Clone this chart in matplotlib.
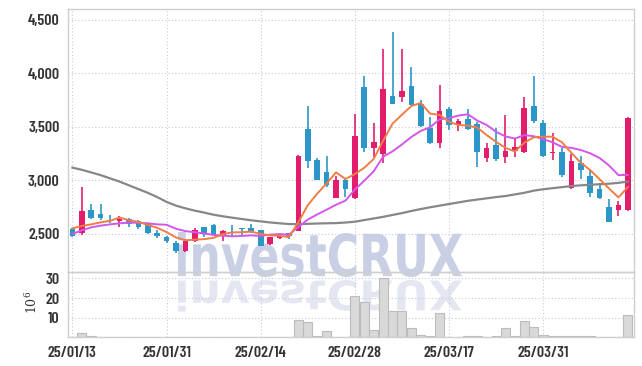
import numpy as np
import matplotlib.pyplot as plt
from matplotlib.font_manager import FontProperties
from matplotlib.textpath import TextPath
from matplotlib.patches import PathPatch
from matplotlib.transforms import Affine2D

# daily candles (KRW), volume in millions
opens = [2547, 2506, 2724, 2688, 2634, 2625, 2640, 2622, 2590, 2506,
         2472, 2419, 2344, 2432, 2562, 2584, 2495, 2520, 2552, 2553,
         2537, 2407, 2460, 2505, 2531, 3480, 3192, 3083, 2840, 3005,
         2835, 3874, 3301, 3245, 3793, 3783, 3883, 3712, 3494, 3353,
         3668, 3519, 3572, 3528, 3213, 3332, 3222, 3276, 3264, 3696,
         3541, 3254, 3269, 2927, 3167, 3045, 2918, 2752, 2724, 2722]
highs = [2555, 2936, 2778, 2785, 2678, 2670, 2650, 2630, 2595, 2537,
         2478, 2437, 2450, 2556, 2568, 2593, 2540, 2584, 2555, 2590,
         2540, 2475, 2490, 2510, 3240, 3700, 3210, 3229, 3040, 3010,
         3620, 3977, 3535, 4226, 4385, 4226, 4058, 3750, 3590, 3890,
         3690, 3575, 3665, 3550, 3348, 3488, 3612, 3400, 3777, 3977,
         3566, 3441, 3301, 3245, 3229, 3107, 2974, 2824, 2808, 3590]
lows = [2470, 2495, 2640, 2630, 2600, 2565, 2565, 2550, 2497, 2463,
        2413, 2320, 2335, 2425, 2469, 2490, 2437, 2485, 2495, 2506,
        2385, 2400, 2455, 2450, 2525, 3115, 3000, 2935, 2833, 2850,
        2825, 3270, 3222, 3161, 3715, 3731, 3705, 3500, 3340, 3300,
        3470, 3463, 3475, 3129, 3176, 3185, 3161, 3222, 3260, 3535,
        3222, 3192, 3036, 2925, 3014, 2849, 2827, 2609, 2671, 2715]
closes = [2484, 2715, 2652, 2645, 2617, 2640, 2592, 2570, 2508, 2481,
          2438, 2345, 2435, 2537, 2506, 2495, 2528, 2510, 2545, 2530,
          2388, 2469, 2481, 2485, 3228, 3185, 3005, 2955, 3005, 2918,
          3415, 3302, 3363, 3855, 3718, 3836, 3706, 3512, 3355, 3654,
          3519, 3556, 3479, 3269, 3301, 3198, 3276, 3313, 3675, 3556,
          3232, 3269, 3051, 3182, 3098, 2886, 2840, 2615, 2771, 3581]
volume = [0.3, 2.0, 0.5, 0.3, 0.2, 0.3, 0.2, 0.2, 0.2, 0.2,
          0.2, 0.3, 0.2, 0.3, 0.2, 0.2, 0.2, 0.2, 0.2, 0.2,
          0.3, 0.2, 0.2, 0.2, 9.0, 7.6, 0.9, 3.0, 0.4, 0.4,
          21.0, 17.9, 3.5, 30.0, 13.2, 13.6, 4.9, 1.3, 0.5, 12.6,
          0.4, 0.3, 0.8, 0.8, 0.3, 0.9, 4.9, 0.8, 8.5, 5.4,
          1.3, 0.8, 0.8, 0.8, 0.8, 0.8, 0.4, 0.4, 0.4, 11.5]

# moving averages as drawn on the chart
ma5 = [2553, 2575, 2590, 2609, 2623, 2654, 2629, 2613, 2585, 2558,
       2518, 2468, 2441, 2447, 2452, 2464, 2500, 2515, 2517, 2522,
       2500, 2488, 2483, 2471, 2610, 2770, 2877, 2972, 3076, 3014,
       3060, 3119, 3201, 3371, 3531, 3615, 3696, 3725, 3625, 3613,
       3549, 3519, 3513, 3495, 3425, 3361, 3305, 3271, 3353, 3404,
       3410, 3409, 3357, 3258, 3166, 3097, 3011, 2925, 2842, 2939]
ma10 = [2500, 2535, 2562, 2578, 2590, 2600, 2606, 2605, 2600, 2590,
        2586, 2549, 2527, 2516, 2505, 2491, 2484, 2478, 2482, 2487,
        2482, 2494, 2499, 2494, 2566, 2635, 2683, 2727, 2773, 2812,
        2915, 2998, 3086, 3223, 3272, 3337, 3407, 3463, 3498, 3572,
        3582, 3607, 3619, 3560, 3519, 3455, 3412, 3392, 3424, 3414,
        3386, 3357, 3314, 3305, 3285, 3254, 3210, 3140, 3050, 3053]
ma_long = [3120, 3100, 3075, 3050, 3020, 2990, 2955, 2920, 2885, 2845,
           2800, 2765, 2740, 2718, 2700, 2680, 2665, 2652, 2640, 2628,
           2618, 2608, 2600, 2593, 2592, 2595, 2598, 2600, 2602, 2607,
           2615, 2630, 2645, 2660, 2678, 2695, 2715, 2733, 2750, 2765,
           2780, 2795, 2810, 2822, 2833, 2845, 2855, 2870, 2885, 2905,
           2918, 2928, 2938, 2948, 2955, 2960, 2965, 2970, 2978, 2990]

tick_idx = [0, 10, 20, 30, 40, 50]
tick_labels = ['25/01/13', '25/01/31', '25/02/14', '25/02/28', '25/03/17', '25/03/31']
price_ticks = [2500, 3000, 3500, 4000, 4500]
vol_ticks = [10, 20, 30]

UP = '#e31c6b'
DOWN = '#2d96c8'
GRID = '#c6cadd'
SPINE = '#cfcfcf'
tick_font = dict(family=['Barlow Condensed', 'Saira Condensed', 'DejaVu Sans'],
                 weight=600, size=11.5)

fig = plt.figure(figsize=(6.42, 3.66), dpi=100)
fig.patch.set_facecolor('white')

# watermark with reflection, in figure pixels
fp = FontProperties(family='DejaVu Sans', weight='bold')
tp = TextPath((0, 0), 'investCRUX', size=100, prop=fp)
ext = tp.get_extents()
sx = 284 / ext.width
sy = 45 / ext.height
t_main = Affine2D().translate(-ext.x0, -ext.y0).scale(sx, sy).translate(178, 366 - 277)
t_refl = Affine2D().translate(-ext.x0, -ext.y0).scale(sx, -sy * 0.7).translate(178, 366 - 280)
fig.add_artist(PathPatch(tp, transform=t_main, fc='#c9cfe4', ec='none', zorder=-1))
fig.add_artist(PathPatch(tp, transform=t_refl, fc='#e4e7f1', ec='none', zorder=-1))

ax = fig.add_axes([68 / 642, 1 - 272.3 / 366, 566 / 642, 263 / 366])
axv = fig.add_axes([68 / 642, 1 - 337.3 / 366, 566 / 642, 65 / 366], sharex=ax)

x = np.arange(len(closes))
o = np.array(opens)
c = np.array(closes)
colors = np.where(c >= o, UP, DOWN)

ax.vlines(x, lows, highs, color=colors, lw=1.2, zorder=2)
body = np.maximum(np.abs(c - o), 8)
ax.bar(x, body, bottom=np.minimum(o, c), width=0.6, color=colors, zorder=2.5)

ax.plot(x, ma_long, color='#878787', lw=1.6, zorder=3)
ax.plot(x, ma10, color='#d257ea', lw=1.4, zorder=3.1)
ax.plot(x, ma5, color='#f07d45', lw=1.4, zorder=3.2)

axv.bar(x, volume, width=0.95, color='#d9d9d9', edgecolor='#bcbcbc', lw=0.8, zorder=2)

for a in (ax, axv):
    a.set_facecolor('none')
    a.grid(True, color=GRID, lw=0.8, linestyle=(0, (1, 2)))
    a.set_axisbelow(True)
    for s in a.spines.values():
        s.set_color(SPINE)
        s.set_linewidth(1)
    a.tick_params(length=0, pad=6, colors='#333333')

ax.set_xlim(-0.47, 59.65)
ax.set_ylim(2142, 4600)
ax.set_yticks(price_ticks)
ax.set_yticklabels([f'{v:,}' for v in price_ticks], fontdict=tick_font)
ax.tick_params(axis='x', labelbottom=False)

axv.set_ylim(0, 33.1)
axv.set_yticks(vol_ticks)
axv.set_yticklabels([str(v) for v in vol_ticks], fontdict=tick_font)
axv.set_xticks(tick_idx)
axv.set_xticklabels(tick_labels, fontdict=tick_font)

fig.text(32 / 642, 1 - 302 / 366, r'$\mathregular{10^6}$', rotation=90,
         ha='center', va='center', fontsize=9, family='DejaVu Serif', color='#333333')

fig.savefig('out.png', dpi=100)
